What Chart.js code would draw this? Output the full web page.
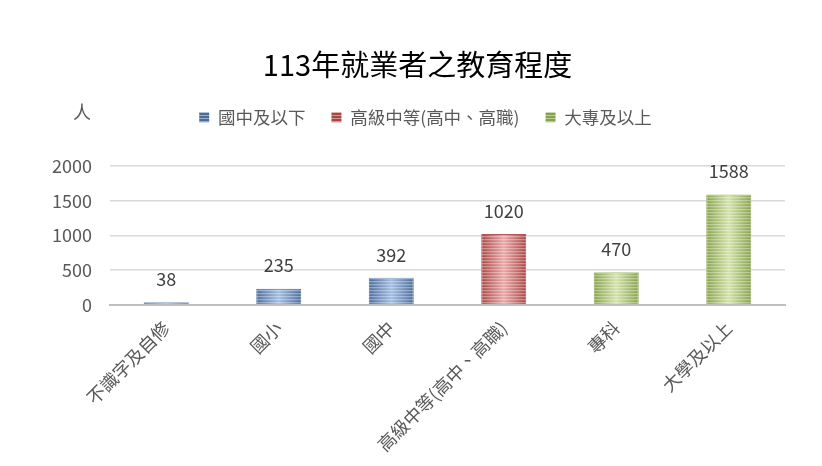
<!DOCTYPE html>
<html><head><meta charset="utf-8">
<script src="https://cdn.jsdelivr.net/npm/chart.js@4"></script>
<style>html,body{margin:0;padding:0;background:#fff}#wrap{width:822px;height:466px}</style>
</head><body><div id="wrap"><canvas id="c"></canvas></div>
<script>
const categories = ['不識字及自修','國小','國中','高級中等(高中、高職)','專科','大學及以上'];
const seriesNames = ['國中及以下','高級中等(高中、高職)','大專及以上'];
const lowerValues = [38, 235, 392, null, null, null];
const highSchoolValues = [null, null, null, 1020, null, null];
const collegeValues = [null, null, null, null, 470, 1588];
const yTicks = [0, 500, 1000, 1500, 2000];
const titleText = '113年就業者之教育程度';
const unitText = '人';

const FONT = '"Noto Sans CJK TC", "Noto Sans", sans-serif';
const palettes = [
  {edge:'#4a6c9b', mid:'#a2bde3'},
  {edge:'#a84643', mid:'#eaa8a6'},
  {edge:'#87a24c', mid:'#d2e3aa'}
];

function makePattern(p){
  const cv = document.createElement('canvas'); cv.width = 10; cv.height = 3;
  const g = cv.getContext('2d');
  g.fillStyle = p.edge; g.fillRect(0,0,10,3);
  g.fillStyle = 'rgba(255,255,255,0.45)'; g.fillRect(0,1,10,1);
  return g.createPattern(cv,'repeat');
}

function gradFill(idx){
  return function(ctx){
    const chart = ctx.chart;
    const p = palettes[idx];
    if (!chart.chartArea || !chart.scales.x) return p.edge;
    const x = chart.scales.x.getPixelForValue(ctx.dataIndex);
    const w = (chart.chartArea.right - chart.chartArea.left)/categories.length*0.4;
    const g = chart.ctx.createLinearGradient(x - w/2, 0, x + w/2, 0);
    g.addColorStop(0, p.edge); g.addColorStop(0.5, p.mid); g.addColorStop(1, p.edge);
    return g;
  };
}

const legendSpacer = {
  id:'legendSpacer',
  beforeUpdate(chart){
    const lg = chart.legend;
    if (lg && !lg._patched){
      const orig = lg.fit;
      lg.fit = function(){ orig.call(this); this.height += 30; };
      lg._patched = true;
    }
  },
  afterLayout(chart){
    const lg = chart.legend;
    if (lg){ lg.left += 8; lg.right += 8; }
  }
};

const stripePlugin = {
  id:'stripes',
  afterDatasetsDraw(chart){
    const c = chart.ctx;
    chart.data.datasets.forEach((ds, di) => {
      const meta = chart.getDatasetMeta(di);
      meta.data.forEach((bar, i) => {
        if (ds.data[i] == null) return;
        const {x, y, base, width} = bar.getProps(['x','y','base','width'], true);
        c.save();
        c.beginPath(); c.rect(x - width/2, y, width, base - y); c.clip();
        c.fillStyle = 'rgba(255,255,255,0.35)';
        for (let yy = base - 2; yy > y - 2; yy -= 3) c.fillRect(x - width/2, yy, width, 1.3);
        c.restore();
        c.save();
        c.font = '18px ' + FONT; c.fillStyle = '#404040';
        c.textAlign = 'center'; c.textBaseline = 'middle';
        c.fillText(String(ds.data[i]), x, y - 23);
        c.restore();
      });
    });
    c.save();
    c.font = '18px ' + FONT; c.fillStyle = '#595959';
    c.textAlign = 'center'; c.textBaseline = 'middle';
    c.fillText(unitText, 82, 112);
    c.restore();
  }
};

const valueSets = [lowerValues, highSchoolValues, collegeValues];
const legendPatterns = palettes.map(makePattern);

new Chart(document.getElementById('c'), {
  type:'bar',
  data:{
    labels: categories,
    datasets: valueSets.map((vals, i) => ({
      label: seriesNames[i],
      data: vals,
      backgroundColor: gradFill(i),
      borderColor: palettes[i].edge,
      borderWidth: 1,
      categoryPercentage: 0.8,
      barPercentage: 0.5
    }))
  },
  options:{
    responsive:true, maintainAspectRatio:false, animation:false,
    layout:{padding:{left:50, right:37, top:0, bottom:0}},
    plugins:{
      title:{display:true, text:titleText, color:'#000', font:{family:FONT, size:29, weight:'normal'}, padding:{top:47.6, bottom:0}},
      legend:{
        position:'top',
        labels:{
          font:{family:FONT, size:17.5}, color:'#595959', boxWidth:10, boxHeight:10, padding:26,
          generateLabels(chart){
            return chart.data.datasets.map((ds, i) => ({
              text: ds.label, fillStyle: legendPatterns[i], strokeStyle: palettes[i].edge,
              lineWidth: 0, hidden:false, datasetIndex:i, fontColor:'#595959'
            }));
          }
        }
      },
      tooltip:{enabled:false}
    },
    scales:{
      x:{
        stacked:true,
        grid:{display:false},
        border:{color:'#bfbfbf', width:2},
        ticks:{font:{family:FONT, size:18}, color:'#595959', minRotation:45, maxRotation:45, padding:4},
        afterFit(s){ s.height = 161; }
      },
      y:{
        stacked:true, min:0, max:2000,
        afterBuildTicks(s){ s.ticks = yTicks.map(v => ({value:v})); },
        grid:{color:(ctx) => ctx.tick && ctx.tick.value === 0 ? '#bfbfbf' : '#d9d9d9', lineWidth:(ctx)=> ctx.tick && ctx.tick.value === 0 ? 2 : 1.5, drawTicks:false},
        border:{display:false},
        ticks:{font:{family:FONT, size:18}, color:'#595959', padding:18, callback:(v) => String(v)},
        afterFit(s){ s.width = 60; }
      }
    }
  },
  plugins:[legendSpacer, stripePlugin]
});
</script></body></html>
